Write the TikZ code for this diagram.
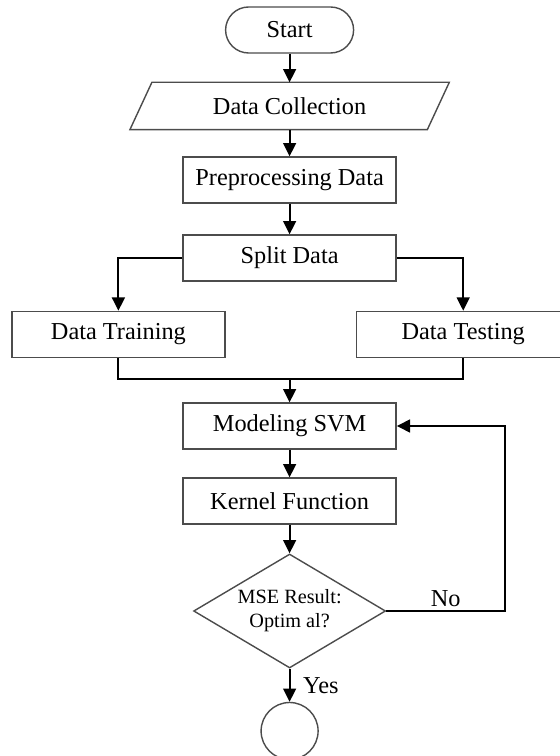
\documentclass[tikz,border=0pt]{standalone}
\usepackage{fontspec}
\setmainfont{Liberation Serif}
\usetikzlibrary{shapes.geometric,arrows.meta}
\begin{document}
\begin{tikzpicture}[>={Triangle[length=3.3mm,width=3.2mm]},font=\fontsize{17.3}{20}\selectfont,
box/.style={draw=black!70,line width=1pt,minimum width=5.325cm,minimum height=1.15cm,inner sep=0pt},
line/.style={line width=1.4pt}]
\useasboundingbox (0,0) rectangle (14,18.9);
\clip (0,0) rectangle (14,18.9);
\node[box,rounded corners=.575cm,minimum width=3.2cm] (start) at (7.24,18.15){Start};
\node[box,draw=none,minimum width=7.4cm] (coll) at (7.24,16.25){Data Collection};
\draw[black!70,line width=1pt] ([xshift=-.275cm]coll.south west)--([xshift=-.275cm]coll.south east)--([xshift=.275cm]coll.north east)--([xshift=.275cm]coll.north west)--cycle;
\node[box] (pre) at (7.24,14.4){Preprocessing Data};
\node[box] (split) at (7.24,12.45){Split Data};
\node[box] (train) at (2.96,10.54){Data Training};
\node[box] (test) at (11.58,10.54){Data Testing};
\node[box] (model) at (7.24,8.25){Modeling SVM};
\node[box] (kern) at (7.24,6.375){Kernel Function};
\node[box,diamond,aspect=1.68,minimum width=4.8cm,minimum height=2.85cm,align=center,font=\fontsize{14.4}{17}\selectfont] (mse) at (7.24,3.625){MSE Result:\\Optim al?};
\node[box,circle,minimum size=1.425cm] (stop) at (7.24,.625){};
\coordinate (merge) at (7.24,9.425);
\coordinate (back) at (12.625,8.25);
\draw[line,->] (start)--(coll);
\draw[line,->] (coll)--(pre);
\draw[line,->] (pre)--(split);
\draw[line,->] (split.west)-|(train.north);
\draw[line,->] (split.east)-|(test.north);
\draw[line] (train.south)|-(merge)-|(test.south);
\draw[line,->] (merge)--(model);
\draw[line,->] (model)--(kern);
\draw[line,->] (kern)--(mse);
\draw[line,->] (mse)--node[right=7pt,inner sep=2pt]{Yes}(stop);
\draw[line,->] (mse.east)-|node[pos=.25,above,inner sep=2pt]{No}(back)--(model.east);
\end{tikzpicture}
\end{document}
